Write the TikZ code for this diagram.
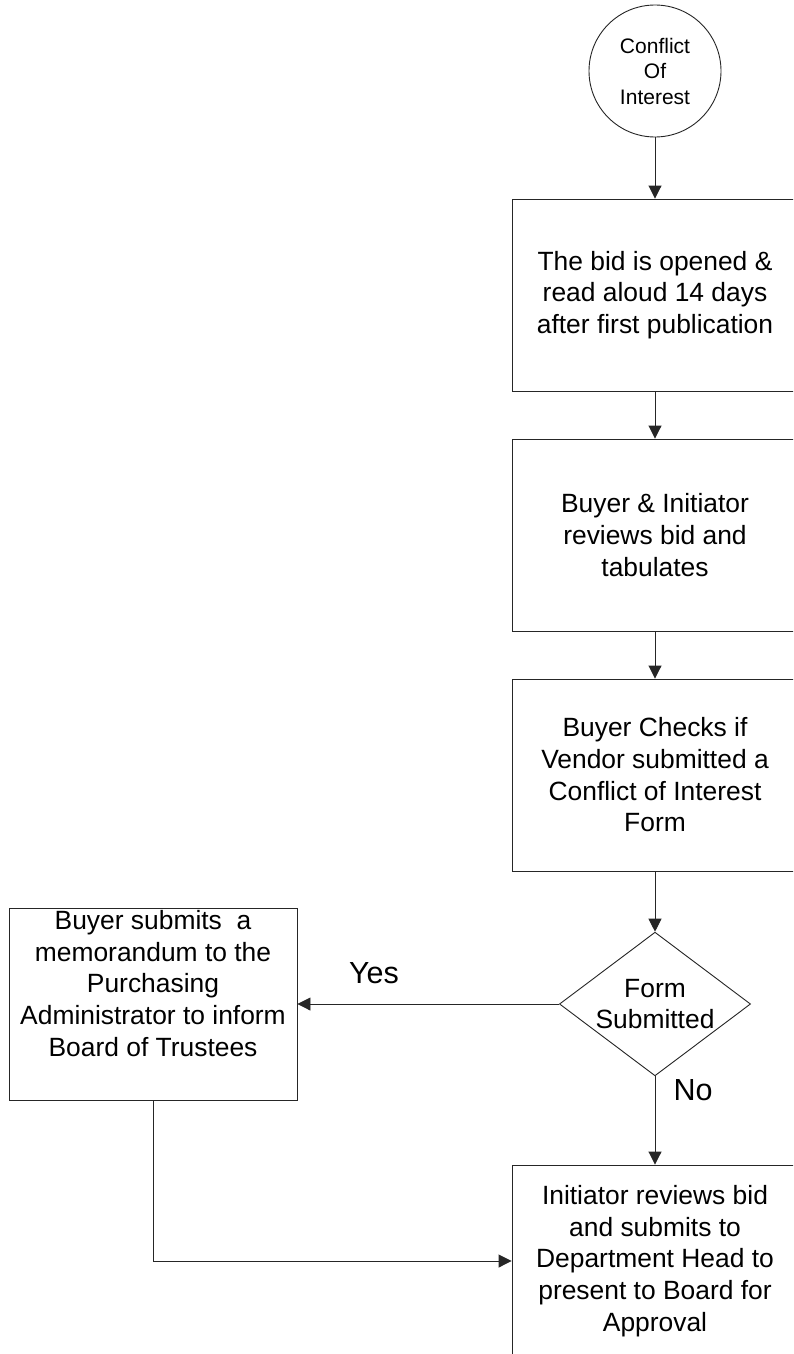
\documentclass[tikz,border=0pt]{standalone}
\usepackage{fontspec}
\setmainfont{Liberation Sans}
\usetikzlibrary{arrows.meta,shapes.geometric}
\begin{document}
\begin{tikzpicture}[x=1pt,y=-1pt,
  line/.style={draw=black!85, line width=0.9pt},
  flow/.style={line, -{Triangle[length=13pt,width=13pt]}},
  bodyfont/.style={font=\fontsize{26.4}{31.7}\selectfont},
  stepbox/.style={line, rectangle, minimum width=286pt, minimum height=192pt,
    inner sep=0pt, align=center, bodyfont},
  startcircle/.style={line, circle, minimum size=132pt, inner sep=0pt,
    align=center, font=\fontsize{21}{25.5}\selectfont},
  decision/.style={line, diamond, aspect=1.33, inner sep=1.2pt, align=center, bodyfont},
  answer/.style={font=\fontsize{30.5}{36}\selectfont, inner sep=0pt}
]
% page frame
\fill[white] (0,0) rectangle (793,1354);
\clip (0,0) rectangle (793,1354);

% main column
\node[startcircle] (coi) at (655,71) {Conflict\\Of\\Interest};
\node[stepbox] (open) at (655,295)
  {The bid is opened \&\\read aloud 14 days\\after first publication};
\node[stepbox] (review) at (655,535)
  {Buyer \& Initiator\\reviews bid and\\tabulates};
\node[stepbox] (check) at (655,775)
  {Buyer Checks if\\Vendor submitted a\\Conflict of Interest\\Form};
\node[decision] (form) at (655,1004) {Form\\Submitted};
\node[stepbox] (present) at (655,1261)
  {Initiator reviews bid\\and submits to\\Department Head to\\present to Board for\\Approval};

% side branch
\node[stepbox, minimum width=288pt] (memo) at (153,1004)
  {Buyer submits\ \ a\\memorandum to the\\Purchasing\\Administrator to inform\\Board of Trustees\\\strut};

% answer labels
\node[answer, anchor=base] (yes) at (374,983) {Yes};
\node[answer, anchor=base] (no) at (693,1100) {No};

% connectors
\draw[flow] (coi) -- (open);
\draw[flow] (open) -- (review);
\draw[flow] (review) -- (check);
\draw[flow] (check) -- (form);
\draw[flow] (form.west) -- (memo.east);
\draw[flow] (form.south) -- (present.north);
\draw[flow] (memo.south) |- (present.west);
\end{tikzpicture}
\end{document}
